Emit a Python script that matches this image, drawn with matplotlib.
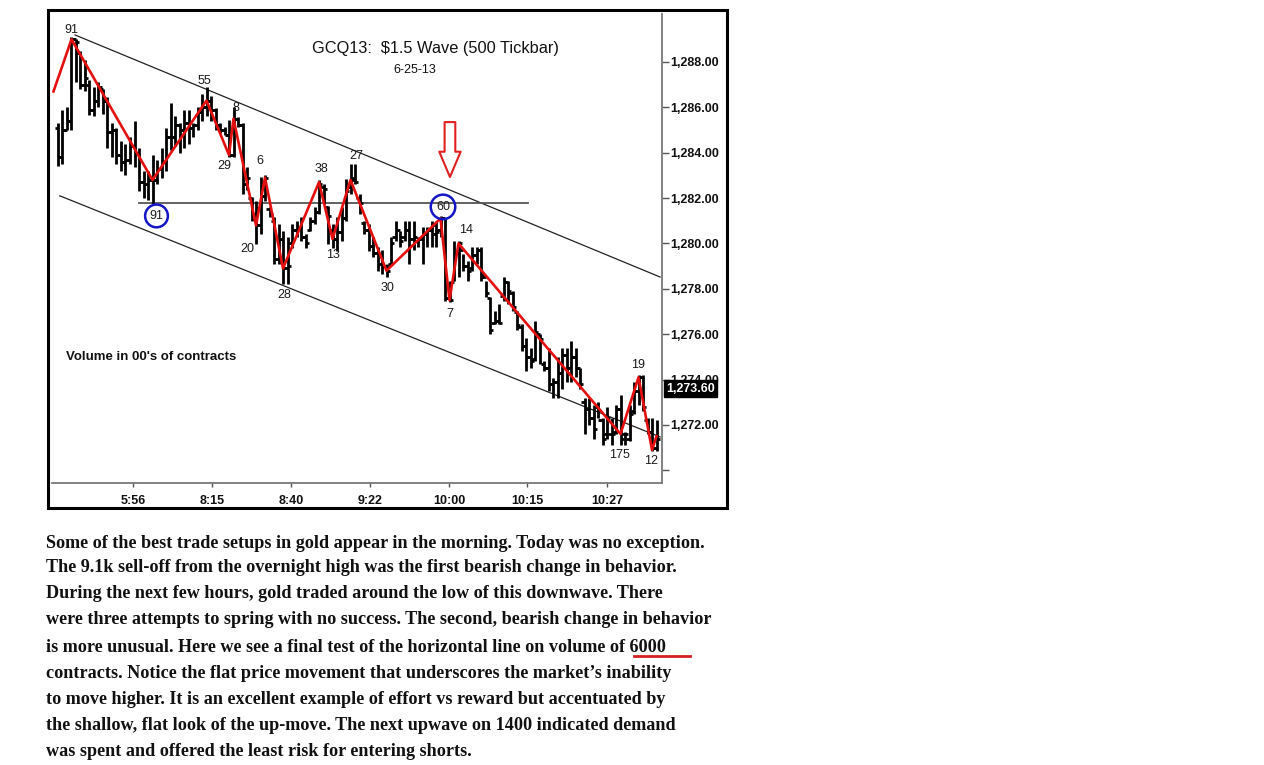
import matplotlib
matplotlib.use('Agg')
import matplotlib.pyplot as plt
from matplotlib.patches import Rectangle

# ---------------- data ----------------
highs = [1285.3, 1285.9, 1286.0, 1289.1, 1289.0, 1288.5, 1288.1, 1287.2, 1286.9, 1287.1,
         1286.8, 1286.45, 1285.3, 1285.1, 1284.5, 1284.4, 1284.7, 1285.4, 1284.2, 1283.2,
         1283.2, 1283.9, 1283.7, 1284.2, 1285.1, 1286.2, 1285.6, 1285.3, 1285.9, 1285.9,
         1285.3, 1286.0, 1286.6, 1286.9, 1286.5, 1285.95, 1285.3, 1285.14, 1285.43, 1286.0,
         1285.58, 1285.29, 1283.37, 1282.04, 1281.89, 1282.93, 1283.0, 1281.6, 1281.15, 1280.86,
         1280.57, 1280.27, 1280.86, 1281.01, 1281.15, 1280.42, 1281.15, 1281.6, 1282.78, 1282.63,
         1281.67, 1280.86, 1281.15, 1281.6, 1282.85, 1283.52, 1283.52, 1282.19, 1281.01, 1280.86,
         1280.27, 1279.83, 1279.69, 1279.10, 1280.27, 1281.01, 1280.57, 1281.01, 1281.01, 1281.01,
         1280.27, 1280.72, 1280.72, 1281.01, 1281.01, 1281.2, 1281.09, 1278.36, 1280.13, 1280.1,
         1279.54, 1279.24, 1279.83, 1279.83, 1279.83, 1278.36, 1277.62, 1277.03, 1277.33, 1278.51,
         1278.36, 1277.92, 1277.03, 1276.44, 1275.85, 1275.4, 1276.6, 1276.0, 1274.8, 1275.4,
         1274.08, 1275.0, 1275.4, 1275.4, 1275.7, 1275.4, 1274.5, 1273.2, 1273.2, 1272.9,
         1273.0, 1272.3, 1272.8, 1272.3, 1272.9, 1273.3, 1271.7, 1272.9, 1273.9, 1274.2,
         1274.2, 1272.31, 1272.31, 1272.2]
lows = [1283.4, 1283.5, 1285.0, 1285.0, 1287.1, 1286.8, 1286.7, 1285.65, 1285.6, 1286.0,
        1285.7, 1284.2, 1283.8, 1283.5, 1283.2, 1283.0, 1283.5, 1283.35, 1282.3, 1282.0,
        1281.9, 1281.7, 1282.6, 1282.9, 1283.2, 1284.1, 1284.3, 1284.0, 1284.2, 1284.4,
        1284.7, 1285.0, 1285.4, 1285.6, 1285.4, 1285.0, 1284.85, 1284.77, 1283.81, 1283.81,
        1285.14, 1282.19, 1282.34, 1281.01, 1279.97, 1280.42, 1281.89, 1281.15, 1279.09, 1279.09,
        1278.2, 1278.2, 1279.82, 1280.27, 1280.12, 1279.82, 1280.57, 1280.86, 1281.3, 1281.74,
        1279.97, 1279.82, 1279.68, 1280.12, 1281.01, 1282.19, 1282.63, 1281.3, 1280.42, 1279.68,
        1279.39, 1278.80, 1278.65, 1278.51, 1279.10, 1280.13, 1279.83, 1280.13, 1279.10, 1279.69,
        1279.83, 1279.10, 1279.83, 1279.83, 1279.83, 1280.27, 1277.47, 1277.40, 1278.36, 1278.51,
        1278.80, 1278.36, 1278.80, 1279.10, 1278.36, 1277.62, 1276.0, 1276.44, 1276.44, 1277.47,
        1277.33, 1277.03, 1276.2, 1275.26, 1274.38, 1274.5, 1274.8, 1274.67, 1274.38, 1273.5,
        1273.2, 1273.2, 1273.6, 1273.9, 1273.9, 1274.1, 1273.6, 1271.6, 1272.0, 1271.4,
        1272.3, 1271.1, 1271.4, 1271.1, 1271.6, 1271.1, 1271.1, 1271.3, 1272.46, 1272.9,
        1272.6, 1271.6, 1270.84, 1270.84]
opens = [1285.1, 1283.8, 1285.0, 1285.4, 1289.0, 1288.4, 1287.0, 1287.0, 1285.9, 1286.3,
         1286.8, 1286.3, 1284.9, 1285.0, 1283.9, 1283.6, 1283.7, 1284.3, 1284.0, 1282.7,
         1282.6, 1282.8, 1282.8, 1283.3, 1283.6, 1284.7, 1284.7, 1285.2, 1285.0, 1285.3,
         1285.1, 1285.2, 1285.8, 1286.0, 1286.3, 1285.9, 1285.2, 1285.0, 1284.8, 1283.9,
         1285.5, 1285.2, 1282.6, 1282.0, 1281.3, 1280.8, 1282.1, 1281.5, 1281.0, 1279.3,
         1280.2, 1278.9, 1280.0, 1280.6, 1280.7, 1280.3, 1280.6, 1281.0, 1281.4, 1282.5,
         1281.6, 1280.6, 1280.2, 1280.5, 1281.1, 1282.5, 1282.9, 1282.0, 1280.9, 1280.6,
         1279.9, 1279.6, 1279.1, 1279.0, 1279.1, 1280.3, 1280.6, 1280.3, 1280.6, 1280.2,
         1280.1, 1280.2, 1280.4, 1280.6, 1280.4, 1280.6, 1281.1, 1277.6, 1278.3, 1279.6,
         1279.7, 1279.0, 1278.9, 1279.5, 1279.7, 1278.5, 1277.6, 1276.5, 1276.6, 1277.7,
         1278.3, 1277.8, 1277.0, 1276.3, 1275.5, 1275.0, 1274.9, 1276.0, 1274.7, 1274.5,
         1273.8, 1273.9, 1274.3, 1275.1, 1274.5, 1275.0, 1274.5, 1273.0, 1272.7, 1272.3,
         1272.8, 1272.2, 1271.6, 1271.6, 1271.7, 1272.7, 1271.6, 1271.4, 1272.6, 1273.5,
         1274.1, 1272.2, 1271.7, 1271.0]
closes = [1283.8, 1285.0, 1285.4, 1289.0, 1288.9, 1287.0, 1287.3, 1285.9, 1286.3, 1286.9,
          1286.3, 1284.9, 1285.0, 1283.9, 1283.6, 1283.7, 1284.3, 1284.0, 1282.7, 1282.6,
          1282.8, 1282.8, 1283.3, 1283.6, 1284.7, 1284.7, 1285.2, 1285.0, 1285.3, 1285.1,
          1285.2, 1285.8, 1286.0, 1286.3, 1285.9, 1285.2, 1285.0, 1284.8, 1283.9, 1285.5,
          1285.2, 1282.6, 1282.9, 1281.3, 1280.8, 1282.1, 1282.9, 1281.3, 1279.3, 1280.2,
          1278.9, 1279.0, 1280.6, 1280.7, 1280.3, 1280.0, 1281.0, 1281.4, 1282.6, 1282.4,
          1281.2, 1280.2, 1280.5, 1281.1, 1282.3, 1282.8, 1282.7, 1281.8, 1280.6, 1279.9,
          1279.6, 1279.1, 1279.0, 1278.8, 1280.0, 1280.6, 1280.1, 1280.6, 1280.2, 1280.3,
          1280.2, 1280.4, 1280.6, 1280.8, 1280.5, 1281.1, 1277.6, 1277.5, 1279.6, 1280.0,
          1279.0, 1278.8, 1279.5, 1279.7, 1278.6, 1277.8, 1276.2, 1276.6, 1276.5, 1278.3,
          1277.9, 1277.2, 1276.4, 1275.5, 1275.0, 1274.8, 1276.1, 1275.8, 1274.5, 1273.8,
          1273.9, 1274.3, 1275.1, 1274.5, 1275.0, 1274.5, 1273.8, 1272.7, 1272.3, 1271.8,
          1272.2, 1271.4, 1272.3, 1271.6, 1272.7, 1271.4, 1271.6, 1272.5, 1273.5, 1274.1,
          1272.8, 1271.7, 1271.0, 1271.4]

# swing (wave) points: bar index, price, volume label
wave_idx = [-1, 3, 21, 33, 38, 39, 44, 46, 50, 58, 61, 65, 73, 85, 87, 89, 125, 129, 132, 133]
wave_price = [1286.7, 1289.0, 1282.8, 1286.3, 1283.9, 1285.5, 1280.8, 1282.9, 1278.9, 1282.7,
              1280.2, 1282.8, 1278.8, 1281.1, 1277.5, 1280.0, 1271.6, 1274.1, 1270.9, 1271.5]
wave_labels = ['', '91', '91', '55', '29', '8', '20', '6', '28', '38',
               '13', '27', '30', '60', '7', '14', '175', '19', '12', '']

# channel lines and horizontal level (bar index, price)
upper_channel_x = [3.8, 133.8]
upper_channel_y = [1289.19, 1278.52]
lower_channel_x = [0.4, 133.8]
lower_channel_y = [1282.10, 1271.47]
level_x = [18.0, 104.4]
level_y = [1281.8]

price_ticks = [1270, 1272, 1274, 1276, 1278, 1280, 1282, 1284, 1286, 1288]
time_ticks = [16.7, 34.2, 51.8, 69.3, 86.9, 104.2, 122.0]
time_labels = ['5:56', '8:15', '8:40', '9:22', '10:00', '10:15', '10:27']
last_price = 1273.60

body_lines = [
    "Some of the best trade setups in gold appear in the morning. Today was no exception.",
    "The 9.1k sell-off from the overnight high was the first bearish change in behavior.",
    "During the next few hours, gold traded around the low of this downwave. There",
    "were three attempts to spring with no success. The second, bearish change in behavior",
    "is more unusual. Here we see a final test of the horizontal line on volume of 6000",
    "contracts. Notice the flat price movement that underscores the market\u2019s inability",
    "to move higher. It is an excellent example of effort vs reward but accentuated by",
    "the shallow, flat look of the up-move. The next upwave on 1400 indicated demand",
    "was spent and offered the least risk for entering shorts.",
]

# ---------------- figure ----------------
W, H = 1264, 765
fig = plt.figure(figsize=(W / 100, H / 100), dpi=100)
fig.patch.set_facecolor('white')


def fx(px):
    return px / W


def fy(py):
    return 1 - py / H


ax = fig.add_axes([fx(52), fy(483), (662 - 52) / W, (483 - 14) / H])
ax.set_facecolor('white')
ax.set_xlim(-1.333, 134.22)
ax.set_ylim(1269.44, 1290.115)

idx = list(range(len(highs)))
tw = 0.7
ax.vlines(idx, lows, highs, color='black', lw=2.0, zorder=3)
ax.hlines(opens, [i - tw for i in idx], idx, color='black', lw=2.0, zorder=3)
ax.hlines(closes, idx, [i + tw for i in idx], color='black', lw=2.0, zorder=3)

# channel + level
ax.plot(upper_channel_x, upper_channel_y, color='#222222', lw=0.9, zorder=2)
ax.plot(lower_channel_x, lower_channel_y, color='#222222', lw=0.9, zorder=2)
ax.plot(level_x, level_y * 2, color='#555555', lw=1.3, zorder=2)

# zigzag
ax.plot(wave_idx, wave_price, color='#e41010', lw=1.9, zorder=4)

# wave labels (offsets in pixels)
offsets = {1: (0, 9), 2: (4, -36), 3: (-2, 20), 4: (-5, -11), 5: (2, 11), 6: (-9, -24),
           7: (-5, 17), 8: (1, -27), 9: (2, 13), 10: (0, -16), 11: (6, 24), 12: (1, -17),
           13: (2.5, 11.6), 14: (0, -14), 15: (8, 13), 16: (-1, -21), 17: (0, 12), 18: (-1, -11)}
for k, lab in enumerate(wave_labels):
    if not lab:
        continue
    dx, dy = offsets[k]
    kw = {}
    if k == 2:
        kw['bbox'] = dict(boxstyle='circle,pad=0.35', fc='none', ec='#1515c8', lw=1.8)
    if k == 13:
        kw['bbox'] = dict(boxstyle='circle,pad=0.42', fc='none', ec='#1515c8', lw=1.8)
    ax.annotate(lab, (wave_idx[k], wave_price[k]), xytext=(dx * 0.72, dy * 0.72),
                textcoords='offset points', ha='center', va='center',
                fontsize=9, color='#1a1a1a', family='Liberation Sans', zorder=6, **kw)

# red hollow arrow
ax.annotate('', xy=(87.1, 1282.93), xytext=(87.1, 1285.35),
            arrowprops=dict(arrowstyle='simple,head_length=1.3,head_width=1.1,tail_width=0.55',
                            fc='white', ec='#e02020', lw=1.5, mutation_scale=14,
                            shrinkA=0, shrinkB=0), zorder=7)

# axes styling
for s in ('left', 'top'):
    ax.spines[s].set_visible(False)
ax.spines['right'].set_color('#777777')
ax.spines['bottom'].set_color('#777777')
ax.spines['right'].set_linewidth(1.3)
ax.spines['bottom'].set_linewidth(1.3)

ax.yaxis.tick_right()
ax.set_yticks(price_ticks)
ax.set_yticklabels(['' if p == 1270 else f'{p:,.2f}' for p in price_ticks])
ax.tick_params(axis='y', direction='out', length=5, width=1, color='#555555', pad=1,
               labelsize=9, labelcolor='#111111')
ax.set_xticks(time_ticks)
ax.set_xticklabels(time_labels)
ax.tick_params(axis='x', direction='out', length=3, width=1, color='#555555', pad=6,
               labelsize=9, labelcolor='#111111')
for t in ax.get_yticklabels() + ax.get_xticklabels():
    t.set_fontfamily('Liberation Sans')
    t.set_fontweight('bold')

# last price box
ax.annotate(f'{last_price:,.2f}', (1.0, last_price), xycoords=('axes fraction', 'data'),
            xytext=(3, 0), textcoords='offset points', ha='left', va='center',
            fontsize=9, fontweight='bold', color='white', family='Liberation Sans',
            bbox=dict(boxstyle='square,pad=0.2', fc='black', ec='black'),
            annotation_clip=False, zorder=20)

# titles
fig.text(fx(435), fy(48), 'GCQ13:  $1.5 Wave (500 Tickbar)', ha='center', va='center',
         fontsize=11.8, family='Liberation Sans', color='#111111')
fig.text(fx(415), fy(70), '6-25-13', ha='center', va='center', fontsize=9,
         family='Liberation Sans', color='#111111')
fig.text(fx(66), fy(357), "Volume in 00's of contracts", ha='left', va='center',
         fontsize=9.5, fontweight='bold', family='Liberation Sans', color='#111111')

# outer frame
fig.add_artist(Rectangle((fx(48), fy(508)), (727 - 48) / W, (508 - 10) / H,
                         transform=fig.transFigure, fill=False, ec='black', lw=2.2))

# body text
line_y = [543, 568, 594, 620, 647, 673, 699, 725, 751]
for ty, line in zip(line_y, body_lines):
    fig.text(fx(46), fy(ty), line, ha='left', va='center', fontsize=13.1,
             family='Liberation Serif', fontweight='bold', color='#111111')

# red underline under 6000
fig.add_artist(plt.Line2D([fx(634), fx(690)], [fy(656), fy(656)],
                          transform=fig.transFigure, color='#d42020', lw=2))

fig.savefig('out.png', dpi=100, facecolor='white')
